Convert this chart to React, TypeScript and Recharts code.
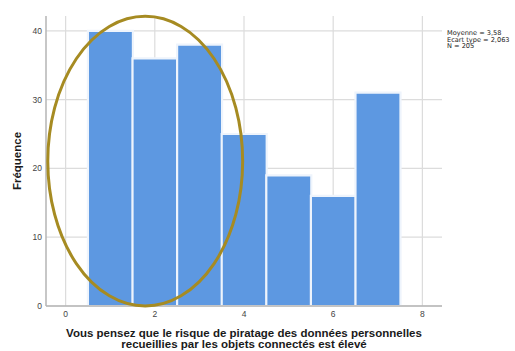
import React from 'react';
import {
  ComposedChart,
  Bar,
  XAxis,
  YAxis,
  CartesianGrid,
  ReferenceArea,
} from 'recharts';

// histogram bins (response scale 1..7) and counts
const binCenters = [1, 2, 3, 4, 5, 6, 7];
const frequencies = [40, 36, 38, 25, 19, 16, 31];
const xTicks = [0, 2, 4, 6, 8];
const yTicks = [0, 10, 20, 30, 40];
const statsLines = ['Moyenne = 3,58', 'Ecart type = 2,063', 'N = 205'];
const xTitleLines = [
  'Vous pensez que le risque de piratage des données personnelles',
  'recueillies par les objets connectés est élevé',
];
const yTitle = 'Fréquence';

// hand-drawn highlight circling the first three bins (data coordinates)
const highlight = { x1: -0.4, x2: 3.97, y1: 0, y2: 42.1 };

const data = binCenters.map((b, i) => ({ bin: b, count: frequencies[i] }));

const FONT = '"Liberation Sans", Arial, sans-serif';

const EllipseShape = (props: any) => {
  const { x, y, width, height } = props;
  return (
    <ellipse
      cx={x + width / 2}
      cy={y + height / 2}
      rx={width / 2}
      ry={height / 2}
      fill="none"
      stroke="#a68b22"
      strokeWidth={3}
    />
  );
};

const XTitle = (props: any) => {
  const { viewBox } = props;
  const cx = viewBox.x + viewBox.width / 2;
  return (
    <text textAnchor="middle" fontFamily={FONT} fontWeight="bold" fontSize={11.5} fill="#1a1a1a">
      {xTitleLines.map((line, i) => (
        <tspan key={i} x={cx} y={viewBox.y + 31 + i * 11}>
          {line}
        </tspan>
      ))}
    </text>
  );
};

const YTitle = (props: any) => {
  const { viewBox } = props;
  const cy = viewBox.y + viewBox.height / 2;
  const cx = 21;
  return (
    <text
      x={cx}
      y={cy}
      textAnchor="middle"
      transform={`rotate(-90 ${cx} ${cy})`}
      fontFamily={FONT}
      fontWeight="bold"
      fontSize={11.5}
      fill="#1a1a1a"
    >
      {yTitle}
    </text>
  );
};

export default function App() {
  return (
    <div style={{ position: 'fixed', left: 0, top: 0, width: 515, height: 351, background: '#fff' }}>
      <ComposedChart
        width={515}
        height={351}
        data={data}
        margin={{ top: 16, right: 73, left: 0, bottom: 0 }}
        barCategoryGap={0}
        barGap={0}
      >
        <CartesianGrid stroke="#dcdcdc" strokeWidth={1.2} horizontalValues={yTicks} verticalValues={xTicks} />
        <XAxis
          dataKey="bin"
          type="number"
          domain={[-0.44, 8.44]}
          ticks={xTicks}
          allowDataOverflow
          height={45}
          tickSize={0}
          tickMargin={5}
          stroke="#b5b5b5"
          strokeWidth={1.5}
          tick={{ fontSize: 8.5, fill: '#444', fontFamily: FONT }}
          label={<XTitle />}
        />
        <YAxis
          type="number"
          domain={[0, 42.15]}
          ticks={yTicks}
          allowDataOverflow
          width={46}
          tickSize={0}
          tickMargin={4}
          stroke="#b5b5b5"
          strokeWidth={1.5}
          tick={{ fontSize: 8.5, fill: '#444', fontFamily: FONT }}
          label={<YTitle />}
        />
        <Bar
          dataKey="count"
          fill="#5d98e1"
          stroke="#eef4fc"
          strokeWidth={2.2}
          isAnimationActive={false}
        />
        <ReferenceArea
          x1={highlight.x1}
          x2={highlight.x2}
          y1={highlight.y1}
          y2={highlight.y2}
          ifOverflow="visible"
          zIndex={1000}
          shape={<EllipseShape />}
        />
        <text fontFamily='"DejaVu Sans", sans-serif' fontSize={6.6} fill="#222">
          {statsLines.map((line, i) => (
            <tspan key={i} x={447} y={35 + i * 6.6}>
              {line}
            </tspan>
          ))}
        </text>
      </ComposedChart>
    </div>
  );
}
